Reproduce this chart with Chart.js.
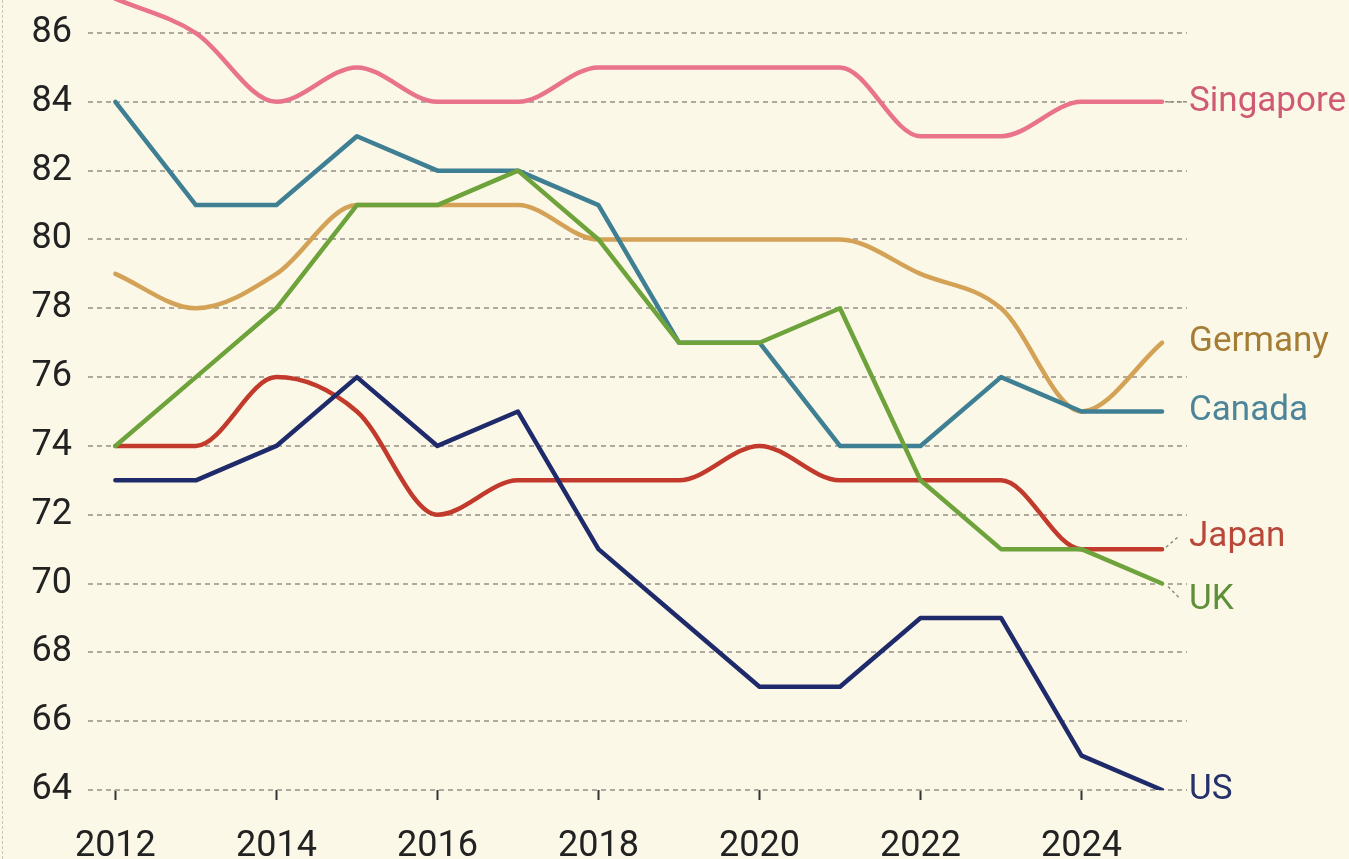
<!DOCTYPE html>
<html>
<head>
<meta charset="utf-8">
<script src="https://cdn.jsdelivr.net/npm/chart.js@4"></script>
<style>
  html, body { margin: 0; padding: 0; background: #fbf8e7; overflow: hidden; }
  #wrap { position: relative; width: 1349px; height: 859px; }
  #edge { position: absolute; left: 2px; top: 0; height: 859px; border-left: 1px dashed #c9c5b2; }
</style>
</head>
<body>
<div id="wrap">
  <div id="edge"></div>
  <canvas id="chart" width="1349" height="859"></canvas>
</div>
<script>
// years along the x axis
const years = [2012, 2013, 2014, 2015, 2016, 2017, 2018, 2019, 2020, 2021, 2022, 2023, 2024, 2025];
const xTicks = [2012, 2014, 2016, 2018, 2020, 2022, 2024];
const yTicks = [64, 66, 68, 70, 72, 74, 76, 78, 80, 82, 84, 86];

// values
const singapore = [87, 86, 84, 85, 84, 84, 85, 85, 85, 85, 83, 83, 84, 84];
const canada    = [84, 81, 81, 83, 82, 82, 81, 77, 77, 74, 74, 76, 75, 75];
const germany   = [79, 78, 79, 81, 81, 81, 80, 80, 80, 80, 79, 78, 75, 77];
const uk        = [74, 76, 78, 81, 81, 82, 80, 77, 77, 78, 73, 71, 71, 70];
const japan     = [74, 74, 76, 75, 72, 73, 73, 73, 74, 73, 73, 73, 71, 71];
const us        = [73, 73, 74, 76, 74, 75, 71, 69, 67, 67, 69, 69, 65, 64];

const series = [
  { name: 'Singapore', values: singapore, color: '#e8738b', text: '#cf5a73', smooth: true,  nudge: 0,   link: 'flat' },
  { name: 'Germany',   values: germany,   color: '#d4a257', text: '#a57d35', smooth: true,  nudge: 0,   link: null },
  { name: 'Canada',    values: canada,    color: '#3f7f93', text: '#4c8599', smooth: false, nudge: 0,   link: null },
  { name: 'Japan',     values: japan,     color: '#c23a2b', text: '#b9483a', smooth: true,  nudge: -12, link: 'up' },
  { name: 'UK',        values: uk,        color: '#6ea33c', text: '#5f8f38', smooth: false, nudge: 17,  link: 'down' },
  { name: 'US',        values: us,        color: '#1f2a6b', text: '#26306a', smooth: false, nudge: 0,   link: null }
];

const endLabels = {
  id: 'endLabels',
  afterDatasetsDraw(chart) {
    const ctx = chart.ctx;
    const xs = chart.scales.x, ys = chart.scales.y;
    ctx.save();
    ctx.font = '35px Roboto';
    ctx.textBaseline = 'middle';
    ctx.textAlign = 'left';
    series.forEach(s => {
      const last = s.values[s.values.length - 1];
      const px = xs.getPixelForValue(years[years.length - 1]);
      const py = ys.getPixelForValue(last);
      const tx = px + 27;
      const ty = py + s.nudge;
      if (s.link) {
        ctx.beginPath();
        ctx.setLineDash([3, 3]);
        ctx.lineWidth = 1.5;
        ctx.strokeStyle = '#8f8c80';
        if (s.link === 'flat') { ctx.moveTo(px + 3, py); ctx.lineTo(tx - 3, py); }
        if (s.link === 'up')   { ctx.moveTo(px + 4, py - 2); ctx.lineTo(px + 17, py - 13); }
        if (s.link === 'down') { ctx.moveTo(px + 6, py + 3); ctx.lineTo(px + 17, py + 14); }
        ctx.stroke();
      }
      ctx.fillStyle = s.text;
      ctx.fillText(s.name, tx, ty);
    });
    ctx.restore();
  }
};

new Chart(document.getElementById('chart'), {
  type: 'line',
  data: {
    datasets: series.map(s => ({
      label: s.name,
      data: years.map((yr, i) => ({ x: yr, y: s.values[i] })),
      borderColor: s.color,
      borderWidth: 4.5,
      pointRadius: 0,
      cubicInterpolationMode: s.smooth ? 'monotone' : 'default',
      tension: 0,
      borderJoinStyle: 'round',
      borderCapStyle: 'round'
    })).reverse()
  },
  options: {
    responsive: false,
    animation: false,
    layout: { padding: { top: 0, right: 162, bottom: 0, left: 0 } },
    plugins: { legend: { display: false }, tooltip: { enabled: false } },
    scales: {
      x: {
        type: 'linear',
        min: 2011.66,
        max: 2025.31,
        afterBuildTicks: s => { s.ticks = xTicks.map(v => ({ value: v })); },
        afterFit: s => { s.height = 69; s.paddingLeft = 0; s.paddingRight = 0; },
        border: { display: false },
        grid: { color: '#333', drawOnChartArea: false, drawTicks: true, tickLength: 10, tickWidth: 2, tickColor: '#333' },
        ticks: {
          color: '#222',
          font: { family: 'Roboto', size: 36 },
          padding: 25,
          maxRotation: 0,
          callback: v => String(v)
        }
      },
      y: {
        min: 64,
        max: 86.96,
        afterBuildTicks: s => { s.ticks = yTicks.map(v => ({ value: v })); },
        afterFit: s => { s.width = 88; s.paddingTop = 0; s.paddingBottom = 0; },
        border: { display: false, dash: [5, 4] },
        grid: { color: '#aeab9e', lineWidth: 2, drawTicks: false },
        ticks: {
          color: '#222',
          font: { family: 'Roboto', size: 36 },
          padding: 16
        }
      }
    }
  },
  plugins: [endLabels]
});
</script>
</body>
</html>
